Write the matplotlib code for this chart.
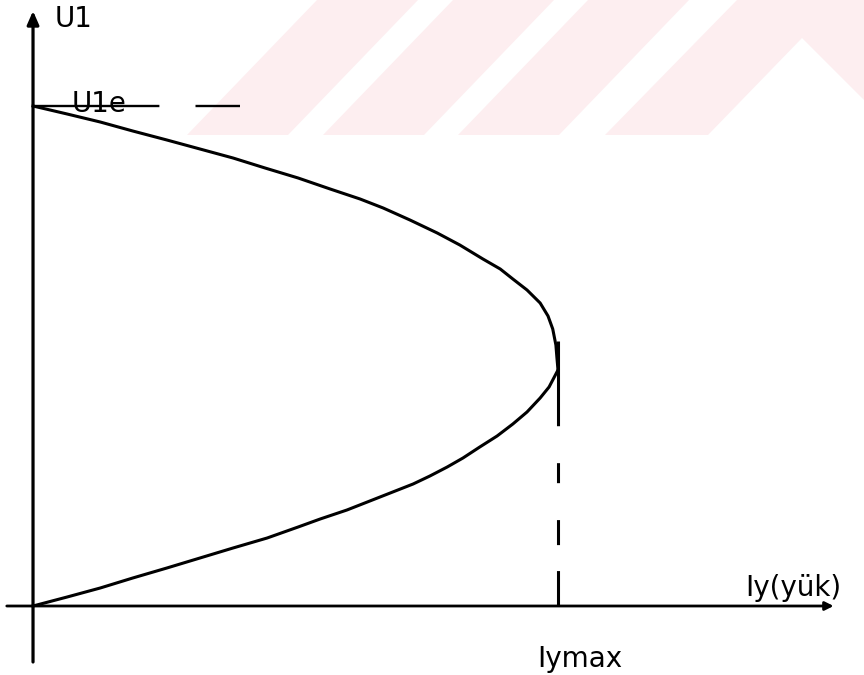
import matplotlib
matplotlib.use("Agg")
import matplotlib.pyplot as plt

plt.rcParams['font.family'] = ['DejaVu Sans']
plt.rcParams['lines.scale_dashes'] = False

# U1 - Iy characteristic (U1e = 1, Iymax = 1)
upper_I = [0.0, 0.065, 0.128, 0.190, 0.255, 0.318, 0.381, 0.442, 0.505, 0.566,
           0.623, 0.667, 0.718, 0.770, 0.813, 0.857, 0.890, 0.914, 0.941, 0.966,
           0.981, 0.990, 0.996, 0.998, 1.0]
upper_U = [1.0, 0.984, 0.968, 0.950, 0.932, 0.914, 0.896, 0.876, 0.856, 0.834,
           0.814, 0.796, 0.772, 0.746, 0.722, 0.694, 0.674, 0.654, 0.632, 0.606,
           0.580, 0.554, 0.522, 0.496, 0.472]
lower_I = [1.0, 0.994, 0.983, 0.966, 0.941, 0.914, 0.884, 0.851, 0.819, 0.789,
           0.756, 0.724, 0.661, 0.598, 0.547, 0.505, 0.446, 0.381, 0.318, 0.255,
           0.190, 0.128, 0.065, 0.0]
lower_U = [0.472, 0.460, 0.438, 0.416, 0.388, 0.364, 0.340, 0.318, 0.296, 0.278,
           0.260, 0.244, 0.218, 0.192, 0.174, 0.158, 0.136, 0.116, 0.096, 0.076,
           0.056, 0.036, 0.018, 0.0]

U1e = 1.0
Iymax = 1.0
U_top = 0.53   # where the Iymax marker starts

labels = {"u_axis": "U1", "u1e": "U1e", "i_axis": "Iy(yük)", "imax": "Iymax"}

fig = plt.figure(figsize=(8.64, 6.75), dpi=100)

# faint diagonal band pattern in the background (pixel space)
bg = fig.add_axes([0, 0, 1, 1], zorder=0)
bg.set_xlim(0, 864)
bg.set_ylim(675, 0)
bg.axis('off')
pink = '#fdeef0'
band_h = 135
for x0 in [187, 323, 458]:
    bg.fill([x0, x0 + 101, x0 + 101 + 130, x0 + 130], [band_h, band_h, 0, 0],
            color=pink, lw=0)
bg.fill([605, 737, 864, 864, 802, 708], [band_h, 0, 0, 100, 38, band_h],
        color=pink, lw=0)

ax = fig.add_axes([0, 0, 1, 1], zorder=1)
ax.patch.set_alpha(0)
ax.set_xlim(-0.0629, 1.5829)
ax.set_ylim(-0.138, 1.212)
ax.axis('off')

# axes with arrows
ax.annotate("", xy=(0, 1.19), xytext=(0, -0.112),
            arrowprops=dict(arrowstyle="-|>,head_length=0.8,head_width=0.35",
                            lw=2.3, color='black', shrinkA=0, shrinkB=0))
ax.annotate("", xy=(1.525, 0), xytext=(-0.05, 0),
            arrowprops=dict(arrowstyle="-|>,head_length=0.5,head_width=0.25",
                            lw=2.0, color='black', shrinkA=0, shrinkB=0))

# characteristic curve
ax.plot(upper_I, upper_U, color='black', lw=2.2, solid_joinstyle='round')
ax.plot(lower_I, lower_U, color='black', lw=2.2, solid_joinstyle='round')

# U1e level
ax.plot([0, 0.394], [U1e, U1e], color='black', lw=1.7,
        dashes=(91, 26), solid_capstyle='butt', dash_capstyle='butt')

# Iymax marker
ax.plot([Iymax, Iymax], [U_top, 0], color='black', lw=2.2, dash_capstyle='butt',
        dashes=(61, 26.6, 14.4, 26.6, 18, 18.7, 23, 0))

ax.text(0.042, 1.174, labels["u_axis"], fontsize=20, ha='left', va='center')
ax.text(0.074, 1.003, labels["u1e"], fontsize=20, ha='left', va='center')
ax.text(0.96, -0.106, labels["imax"], fontsize=20, ha='left', va='center')
ax.text(1.356, 0.036, labels["i_axis"], fontsize=20, ha='left', va='center')

fig.savefig("out.png", dpi=100)
